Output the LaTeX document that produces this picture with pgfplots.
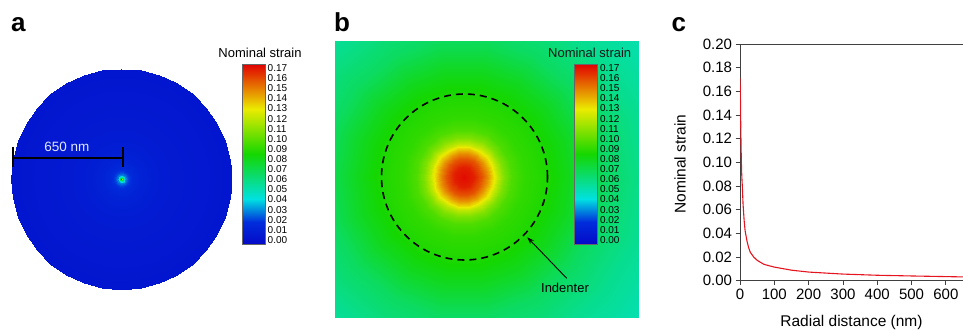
\documentclass[border=0pt]{standalone}
\usepackage{fontspec}
\setmainfont{Liberation Sans}
\usepackage{pgfplots}
\pgfplotsset{compat=1.18}
\usepackage{pgfplotstable}
\usetikzlibrary{arrows.meta}
\newcommand\fs[1]{\fontsize{#1}{#1}\selectfont}

\pgfplotstableread{
r s
0 0.171
1 0.160
2 0.135
3 0.115
4 0.100
5 0.090
7 0.078
9 0.064
12 0.051
15 0.042
20 0.034
25 0.028
30 0.024
40 0.020
50 0.0172
70 0.0138
100 0.0115
150 0.0089
200 0.0073
300 0.0056
400 0.0046
500 0.0040
650 0.0032
}\strainprofile

% colour scale: value v sits at fraction (v+0.004)/0.178
\pgfplotstableread{
x y c
0 -0.004 -0.004
1 -0.004 -0.004
1 0.0174 0.0174
0 0.0174 0.0174
0 0.0174 0.0174
1 0.0174 0.0174
1 0.0405 0.0405
0 0.0405 0.0405
0 0.0405 0.0405
1 0.0405 0.0405
1 0.085 0.085
0 0.085 0.085
0 0.085 0.085
1 0.085 0.085
1 0.1295 0.1295
0 0.1295 0.1295
0 0.1295 0.1295
1 0.1295 0.1295
1 0.174 0.174
0 0.174 0.174
}\barscale

\pgfplotsset{colormap={strain}{rgb255(0pt)=(5,10,200) rgb255(12pt)=(0,45,220) rgb255(25pt)=(0,225,225) rgb255(50pt)=(20,215,0) rgb255(75pt)=(235,235,0) rgb255(100pt)=(225,0,0)}}

\pgfplotsset{
  cbar/.style={
    anchor=south west, scale only axis,
    width=23pt, height=180pt,
    xmin=0, xmax=1, ymin=-0.004, ymax=0.174,
    xtick=\empty,
    ytick={0,0.01,0.02,0.03,0.04,0.05,0.06,0.07,0.08,0.09,0.1,0.11,0.12,0.13,0.14,0.15,0.16,0.17},
    ytick pos=right, yticklabel pos=right,
    major tick length=0pt,
    axis line style={draw=black!60, line width=0.5pt},
    yticklabel style={font=\fs{10}, inner sep=2.5pt, /pgf/number format/.cd, fixed, fixed zerofill, precision=2, assume math mode=true},
    scaled y ticks=false,
    colormap name=strain, point meta min=-0.004, point meta max=0.174,
    axis on top,
  }
}

\begin{document}
\begin{tikzpicture}
\useasboundingbox (0,0) rectangle (963pt,330pt);

% ---------- panel a ----------
\begin{axis}[at={(11pt,40.5pt)}, anchor=south west, scale only axis,
  width=221pt, height=221pt,
  xmin=-650, xmax=650, ymin=-650, ymax=650,
  view={0}{90}, hide axis, clip=false,
  colormap name=strain, point meta min=-0.004, point meta max=0.174]
\addplot3[surf, shader=interp, data cs=polar, mesh/cols=9]
 table[row sep=\\, x=a, y=r, z=v] {
a r v\\
0 0 0.171\\ 0 8 0.070\\ 0 16 0.040\\ 0 25 0.028\\ 0 40 0.020\\ 0 70 0.0138\\ 0 130 0.0098\\ 0 250 0.0064\\ 0 650 0.0032\\
10 0 0.171\\ 10 8 0.070\\ 10 16 0.040\\ 10 25 0.028\\ 10 40 0.020\\ 10 70 0.0138\\ 10 130 0.0098\\ 10 250 0.0064\\ 10 650 0.0032\\
20 0 0.171\\ 20 8 0.070\\ 20 16 0.040\\ 20 25 0.028\\ 20 40 0.020\\ 20 70 0.0138\\ 20 130 0.0098\\ 20 250 0.0064\\ 20 650 0.0032\\
30 0 0.171\\ 30 8 0.070\\ 30 16 0.040\\ 30 25 0.028\\ 30 40 0.020\\ 30 70 0.0138\\ 30 130 0.0098\\ 30 250 0.0064\\ 30 650 0.0032\\
40 0 0.171\\ 40 8 0.070\\ 40 16 0.040\\ 40 25 0.028\\ 40 40 0.020\\ 40 70 0.0138\\ 40 130 0.0098\\ 40 250 0.0064\\ 40 650 0.0032\\
50 0 0.171\\ 50 8 0.070\\ 50 16 0.040\\ 50 25 0.028\\ 50 40 0.020\\ 50 70 0.0138\\ 50 130 0.0098\\ 50 250 0.0064\\ 50 650 0.0032\\
60 0 0.171\\ 60 8 0.070\\ 60 16 0.040\\ 60 25 0.028\\ 60 40 0.020\\ 60 70 0.0138\\ 60 130 0.0098\\ 60 250 0.0064\\ 60 650 0.0032\\
70 0 0.171\\ 70 8 0.070\\ 70 16 0.040\\ 70 25 0.028\\ 70 40 0.020\\ 70 70 0.0138\\ 70 130 0.0098\\ 70 250 0.0064\\ 70 650 0.0032\\
80 0 0.171\\ 80 8 0.070\\ 80 16 0.040\\ 80 25 0.028\\ 80 40 0.020\\ 80 70 0.0138\\ 80 130 0.0098\\ 80 250 0.0064\\ 80 650 0.0032\\
90 0 0.171\\ 90 8 0.070\\ 90 16 0.040\\ 90 25 0.028\\ 90 40 0.020\\ 90 70 0.0138\\ 90 130 0.0098\\ 90 250 0.0064\\ 90 650 0.0032\\
100 0 0.171\\ 100 8 0.070\\ 100 16 0.040\\ 100 25 0.028\\ 100 40 0.020\\ 100 70 0.0138\\ 100 130 0.0098\\ 100 250 0.0064\\ 100 650 0.0032\\
110 0 0.171\\ 110 8 0.070\\ 110 16 0.040\\ 110 25 0.028\\ 110 40 0.020\\ 110 70 0.0138\\ 110 130 0.0098\\ 110 250 0.0064\\ 110 650 0.0032\\
120 0 0.171\\ 120 8 0.070\\ 120 16 0.040\\ 120 25 0.028\\ 120 40 0.020\\ 120 70 0.0138\\ 120 130 0.0098\\ 120 250 0.0064\\ 120 650 0.0032\\
130 0 0.171\\ 130 8 0.070\\ 130 16 0.040\\ 130 25 0.028\\ 130 40 0.020\\ 130 70 0.0138\\ 130 130 0.0098\\ 130 250 0.0064\\ 130 650 0.0032\\
140 0 0.171\\ 140 8 0.070\\ 140 16 0.040\\ 140 25 0.028\\ 140 40 0.020\\ 140 70 0.0138\\ 140 130 0.0098\\ 140 250 0.0064\\ 140 650 0.0032\\
150 0 0.171\\ 150 8 0.070\\ 150 16 0.040\\ 150 25 0.028\\ 150 40 0.020\\ 150 70 0.0138\\ 150 130 0.0098\\ 150 250 0.0064\\ 150 650 0.0032\\
160 0 0.171\\ 160 8 0.070\\ 160 16 0.040\\ 160 25 0.028\\ 160 40 0.020\\ 160 70 0.0138\\ 160 130 0.0098\\ 160 250 0.0064\\ 160 650 0.0032\\
170 0 0.171\\ 170 8 0.070\\ 170 16 0.040\\ 170 25 0.028\\ 170 40 0.020\\ 170 70 0.0138\\ 170 130 0.0098\\ 170 250 0.0064\\ 170 650 0.0032\\
180 0 0.171\\ 180 8 0.070\\ 180 16 0.040\\ 180 25 0.028\\ 180 40 0.020\\ 180 70 0.0138\\ 180 130 0.0098\\ 180 250 0.0064\\ 180 650 0.0032\\
190 0 0.171\\ 190 8 0.070\\ 190 16 0.040\\ 190 25 0.028\\ 190 40 0.020\\ 190 70 0.0138\\ 190 130 0.0098\\ 190 250 0.0064\\ 190 650 0.0032\\
200 0 0.171\\ 200 8 0.070\\ 200 16 0.040\\ 200 25 0.028\\ 200 40 0.020\\ 200 70 0.0138\\ 200 130 0.0098\\ 200 250 0.0064\\ 200 650 0.0032\\
210 0 0.171\\ 210 8 0.070\\ 210 16 0.040\\ 210 25 0.028\\ 210 40 0.020\\ 210 70 0.0138\\ 210 130 0.0098\\ 210 250 0.0064\\ 210 650 0.0032\\
220 0 0.171\\ 220 8 0.070\\ 220 16 0.040\\ 220 25 0.028\\ 220 40 0.020\\ 220 70 0.0138\\ 220 130 0.0098\\ 220 250 0.0064\\ 220 650 0.0032\\
230 0 0.171\\ 230 8 0.070\\ 230 16 0.040\\ 230 25 0.028\\ 230 40 0.020\\ 230 70 0.0138\\ 230 130 0.0098\\ 230 250 0.0064\\ 230 650 0.0032\\
240 0 0.171\\ 240 8 0.070\\ 240 16 0.040\\ 240 25 0.028\\ 240 40 0.020\\ 240 70 0.0138\\ 240 130 0.0098\\ 240 250 0.0064\\ 240 650 0.0032\\
250 0 0.171\\ 250 8 0.070\\ 250 16 0.040\\ 250 25 0.028\\ 250 40 0.020\\ 250 70 0.0138\\ 250 130 0.0098\\ 250 250 0.0064\\ 250 650 0.0032\\
260 0 0.171\\ 260 8 0.070\\ 260 16 0.040\\ 260 25 0.028\\ 260 40 0.020\\ 260 70 0.0138\\ 260 130 0.0098\\ 260 250 0.0064\\ 260 650 0.0032\\
270 0 0.171\\ 270 8 0.070\\ 270 16 0.040\\ 270 25 0.028\\ 270 40 0.020\\ 270 70 0.0138\\ 270 130 0.0098\\ 270 250 0.0064\\ 270 650 0.0032\\
280 0 0.171\\ 280 8 0.070\\ 280 16 0.040\\ 280 25 0.028\\ 280 40 0.020\\ 280 70 0.0138\\ 280 130 0.0098\\ 280 250 0.0064\\ 280 650 0.0032\\
290 0 0.171\\ 290 8 0.070\\ 290 16 0.040\\ 290 25 0.028\\ 290 40 0.020\\ 290 70 0.0138\\ 290 130 0.0098\\ 290 250 0.0064\\ 290 650 0.0032\\
300 0 0.171\\ 300 8 0.070\\ 300 16 0.040\\ 300 25 0.028\\ 300 40 0.020\\ 300 70 0.0138\\ 300 130 0.0098\\ 300 250 0.0064\\ 300 650 0.0032\\
310 0 0.171\\ 310 8 0.070\\ 310 16 0.040\\ 310 25 0.028\\ 310 40 0.020\\ 310 70 0.0138\\ 310 130 0.0098\\ 310 250 0.0064\\ 310 650 0.0032\\
320 0 0.171\\ 320 8 0.070\\ 320 16 0.040\\ 320 25 0.028\\ 320 40 0.020\\ 320 70 0.0138\\ 320 130 0.0098\\ 320 250 0.0064\\ 320 650 0.0032\\
330 0 0.171\\ 330 8 0.070\\ 330 16 0.040\\ 330 25 0.028\\ 330 40 0.020\\ 330 70 0.0138\\ 330 130 0.0098\\ 330 250 0.0064\\ 330 650 0.0032\\
340 0 0.171\\ 340 8 0.070\\ 340 16 0.040\\ 340 25 0.028\\ 340 40 0.020\\ 340 70 0.0138\\ 340 130 0.0098\\ 340 250 0.0064\\ 340 650 0.0032\\
350 0 0.171\\ 350 8 0.070\\ 350 16 0.040\\ 350 25 0.028\\ 350 40 0.020\\ 350 70 0.0138\\ 350 130 0.0098\\ 350 250 0.0064\\ 350 650 0.0032\\
360 0 0.171\\ 360 8 0.070\\ 360 16 0.040\\ 360 25 0.028\\ 360 40 0.020\\ 360 70 0.0138\\ 360 130 0.0098\\ 360 250 0.0064\\ 360 650 0.0032\\
};
\end{axis}

% colour scale of panel a
\begin{axis}[cbar, at={(242pt,86pt)}]
\addplot[patch, patch type=rectangle, shader=interp, point meta=explicit] table[x=x, y=y, meta=c] {\barscale};
\end{axis}

% ---------- panel b ----------
\begin{axis}[at={(335pt,13pt)}, anchor=south west, scale only axis,
  width=303pt, height=276pt,
  xmin=-128.5, xmax=174.5, ymin=-140, ymax=136,
  view={0}{90}, hide axis,
  colormap name=strain, point meta min=-0.004, point meta max=0.174]
\addplot3[surf, shader=interp, data cs=polar, mesh/cols=14]
 table[row sep=\\, x=a, y=r, z=v] {
a r v\\
0 0 0.172\\ 0 10 0.168\\ 0 18 0.158\\ 0 24 0.146\\ 0 29 0.133\\ 0 34 0.120\\ 0 40 0.107\\ 0 48 0.097\\ 0 60 0.091\\ 0 83 0.087\\ 0 110 0.078\\ 0 140 0.066\\ 0 180 0.057\\ 0 240 0.048\\
20 0 0.172\\ 20 10 0.168\\ 20 18 0.158\\ 20 24 0.146\\ 20 29 0.133\\ 20 34 0.120\\ 20 40 0.107\\ 20 48 0.097\\ 20 60 0.091\\ 20 83 0.087\\ 20 110 0.078\\ 20 140 0.066\\ 20 180 0.057\\ 20 240 0.048\\
40 0 0.172\\ 40 10 0.168\\ 40 18 0.158\\ 40 24 0.146\\ 40 29 0.133\\ 40 34 0.120\\ 40 40 0.107\\ 40 48 0.097\\ 40 60 0.091\\ 40 83 0.087\\ 40 110 0.078\\ 40 140 0.066\\ 40 180 0.057\\ 40 240 0.048\\
60 0 0.172\\ 60 10 0.168\\ 60 18 0.158\\ 60 24 0.146\\ 60 29 0.133\\ 60 34 0.120\\ 60 40 0.107\\ 60 48 0.097\\ 60 60 0.091\\ 60 83 0.087\\ 60 110 0.078\\ 60 140 0.066\\ 60 180 0.057\\ 60 240 0.048\\
80 0 0.172\\ 80 10 0.168\\ 80 18 0.158\\ 80 24 0.146\\ 80 29 0.133\\ 80 34 0.120\\ 80 40 0.107\\ 80 48 0.097\\ 80 60 0.091\\ 80 83 0.087\\ 80 110 0.078\\ 80 140 0.066\\ 80 180 0.057\\ 80 240 0.048\\
100 0 0.172\\ 100 10 0.168\\ 100 18 0.158\\ 100 24 0.146\\ 100 29 0.133\\ 100 34 0.120\\ 100 40 0.107\\ 100 48 0.097\\ 100 60 0.091\\ 100 83 0.087\\ 100 110 0.078\\ 100 140 0.066\\ 100 180 0.057\\ 100 240 0.048\\
120 0 0.172\\ 120 10 0.168\\ 120 18 0.158\\ 120 24 0.146\\ 120 29 0.133\\ 120 34 0.120\\ 120 40 0.107\\ 120 48 0.097\\ 120 60 0.091\\ 120 83 0.087\\ 120 110 0.078\\ 120 140 0.066\\ 120 180 0.057\\ 120 240 0.048\\
140 0 0.172\\ 140 10 0.168\\ 140 18 0.158\\ 140 24 0.146\\ 140 29 0.133\\ 140 34 0.120\\ 140 40 0.107\\ 140 48 0.097\\ 140 60 0.091\\ 140 83 0.087\\ 140 110 0.078\\ 140 140 0.066\\ 140 180 0.057\\ 140 240 0.048\\
160 0 0.172\\ 160 10 0.168\\ 160 18 0.158\\ 160 24 0.146\\ 160 29 0.133\\ 160 34 0.120\\ 160 40 0.107\\ 160 48 0.097\\ 160 60 0.091\\ 160 83 0.087\\ 160 110 0.078\\ 160 140 0.066\\ 160 180 0.057\\ 160 240 0.048\\
180 0 0.172\\ 180 10 0.168\\ 180 18 0.158\\ 180 24 0.146\\ 180 29 0.133\\ 180 34 0.120\\ 180 40 0.107\\ 180 48 0.097\\ 180 60 0.091\\ 180 83 0.087\\ 180 110 0.078\\ 180 140 0.066\\ 180 180 0.057\\ 180 240 0.048\\
200 0 0.172\\ 200 10 0.168\\ 200 18 0.158\\ 200 24 0.146\\ 200 29 0.133\\ 200 34 0.120\\ 200 40 0.107\\ 200 48 0.097\\ 200 60 0.091\\ 200 83 0.087\\ 200 110 0.078\\ 200 140 0.066\\ 200 180 0.057\\ 200 240 0.048\\
220 0 0.172\\ 220 10 0.168\\ 220 18 0.158\\ 220 24 0.146\\ 220 29 0.133\\ 220 34 0.120\\ 220 40 0.107\\ 220 48 0.097\\ 220 60 0.091\\ 220 83 0.087\\ 220 110 0.078\\ 220 140 0.066\\ 220 180 0.057\\ 220 240 0.048\\
240 0 0.172\\ 240 10 0.168\\ 240 18 0.158\\ 240 24 0.146\\ 240 29 0.133\\ 240 34 0.120\\ 240 40 0.107\\ 240 48 0.097\\ 240 60 0.091\\ 240 83 0.087\\ 240 110 0.078\\ 240 140 0.066\\ 240 180 0.057\\ 240 240 0.048\\
260 0 0.172\\ 260 10 0.168\\ 260 18 0.158\\ 260 24 0.146\\ 260 29 0.133\\ 260 34 0.120\\ 260 40 0.107\\ 260 48 0.097\\ 260 60 0.091\\ 260 83 0.087\\ 260 110 0.078\\ 260 140 0.066\\ 260 180 0.057\\ 260 240 0.048\\
280 0 0.172\\ 280 10 0.168\\ 280 18 0.158\\ 280 24 0.146\\ 280 29 0.133\\ 280 34 0.120\\ 280 40 0.107\\ 280 48 0.097\\ 280 60 0.091\\ 280 83 0.087\\ 280 110 0.078\\ 280 140 0.066\\ 280 180 0.057\\ 280 240 0.048\\
300 0 0.172\\ 300 10 0.168\\ 300 18 0.158\\ 300 24 0.146\\ 300 29 0.133\\ 300 34 0.120\\ 300 40 0.107\\ 300 48 0.097\\ 300 60 0.091\\ 300 83 0.087\\ 300 110 0.078\\ 300 140 0.066\\ 300 180 0.057\\ 300 240 0.048\\
320 0 0.172\\ 320 10 0.168\\ 320 18 0.158\\ 320 24 0.146\\ 320 29 0.133\\ 320 34 0.120\\ 320 40 0.107\\ 320 48 0.097\\ 320 60 0.091\\ 320 83 0.087\\ 320 110 0.078\\ 320 140 0.066\\ 320 180 0.057\\ 320 240 0.048\\
340 0 0.172\\ 340 10 0.168\\ 340 18 0.158\\ 340 24 0.146\\ 340 29 0.133\\ 340 34 0.120\\ 340 40 0.107\\ 340 48 0.097\\ 340 60 0.091\\ 340 83 0.087\\ 340 110 0.078\\ 340 140 0.066\\ 340 180 0.057\\ 340 240 0.048\\
360 0 0.172\\ 360 10 0.168\\ 360 18 0.158\\ 360 24 0.146\\ 360 29 0.133\\ 360 34 0.120\\ 360 40 0.107\\ 360 48 0.097\\ 360 60 0.091\\ 360 83 0.087\\ 360 110 0.078\\ 360 140 0.066\\ 360 180 0.057\\ 360 240 0.048\\
};
\end{axis}

% colour scale of panel b
\begin{axis}[cbar, at={(574.3pt,86pt)}]
\addplot[patch, patch type=rectangle, shader=interp, point meta=explicit] table[x=x, y=y, meta=c] {\barscale};
\end{axis}

% ---------- panel c ----------
\begin{axis}[at={(740pt,49.3pt)}, anchor=south west, scale only axis,
  width=223pt, height=236.7pt,
  xmin=0, xmax=650, ymin=0, ymax=0.2,
  axis x line*=box, axis y line*=left,
  xtick={0,100,200,300,400,500,600},
  ytick={0,0.02,0.04,0.06,0.08,0.1,0.12,0.14,0.16,0.18,0.2},
  tick pos=left, tick align=outside, major tick length=4.5pt,
  tick style={black!75, line width=0.8pt},
  axis line style={black!75, line width=0.8pt},
  tick label style={font=\fs{15}},
  /pgf/number format/assume math mode=true,
  yticklabel style={/pgf/number format/.cd, fixed, fixed zerofill, precision=2},
  scaled y ticks=false,
  xlabel={Radial distance (nm)}, ylabel={Nominal strain},
  label style={font=\fs{15.5}},
  xlabel style={at={(axis description cs:0.5,-0.1745)}, anchor=center},
  ylabel style={at={(axis description cs:-0.269,0.493)}, anchor=center}]
\addplot[color={rgb,255:red,230;green,20;blue,30}, line width=1.1pt] table[x=r, y=s] {\strainprofile};
\end{axis}

% ---------- annotations ----------
\node[anchor=base west, font=\fs{26}\bfseries, inner sep=0] at (11pt,298.3pt) {a};
\node[anchor=base west, font=\fs{26}\bfseries, inner sep=0] at (334pt,298pt) {b};
\node[anchor=base west, font=\fs{26}\bfseries, inner sep=0] at (671.5pt,298.3pt) {c};

\node[font=\fs{13}, inner sep=0] at (260pt,277.5pt) {Nominal strain};
\node[font=\fs{13}, inner sep=0, text=black!90] at (589.7pt,277.5pt) {Nominal strain};

% scale bar panel a
\draw[line width=2pt] (12.5pt,172pt) -- (122.5pt,172pt);
\draw[line width=2pt] (12.5pt,182.7pt) -- (12.5pt,163.3pt);
\draw[line width=2pt] (122.5pt,182.7pt) -- (122.5pt,163.3pt);
\node[font=\fs{13.5}, inner sep=0, text={rgb,255:red,225;green,232;blue,255}] at (67pt,182.8pt) {650 nm};

% indenter outline panel b
\draw[line width=1.6pt, dash pattern=on 7pt off 5pt] (464.5pt,153pt) circle[radius=83pt];
\draw[line width=0.9pt, -{Stealth[length=7pt,width=5pt]}] (566.7pt,51.7pt) -- (527.3pt,92.7pt);
\node[font=\fs{13}, inner sep=0] at (565pt,42pt) {Indenter};
\end{tikzpicture}
\end{document}
